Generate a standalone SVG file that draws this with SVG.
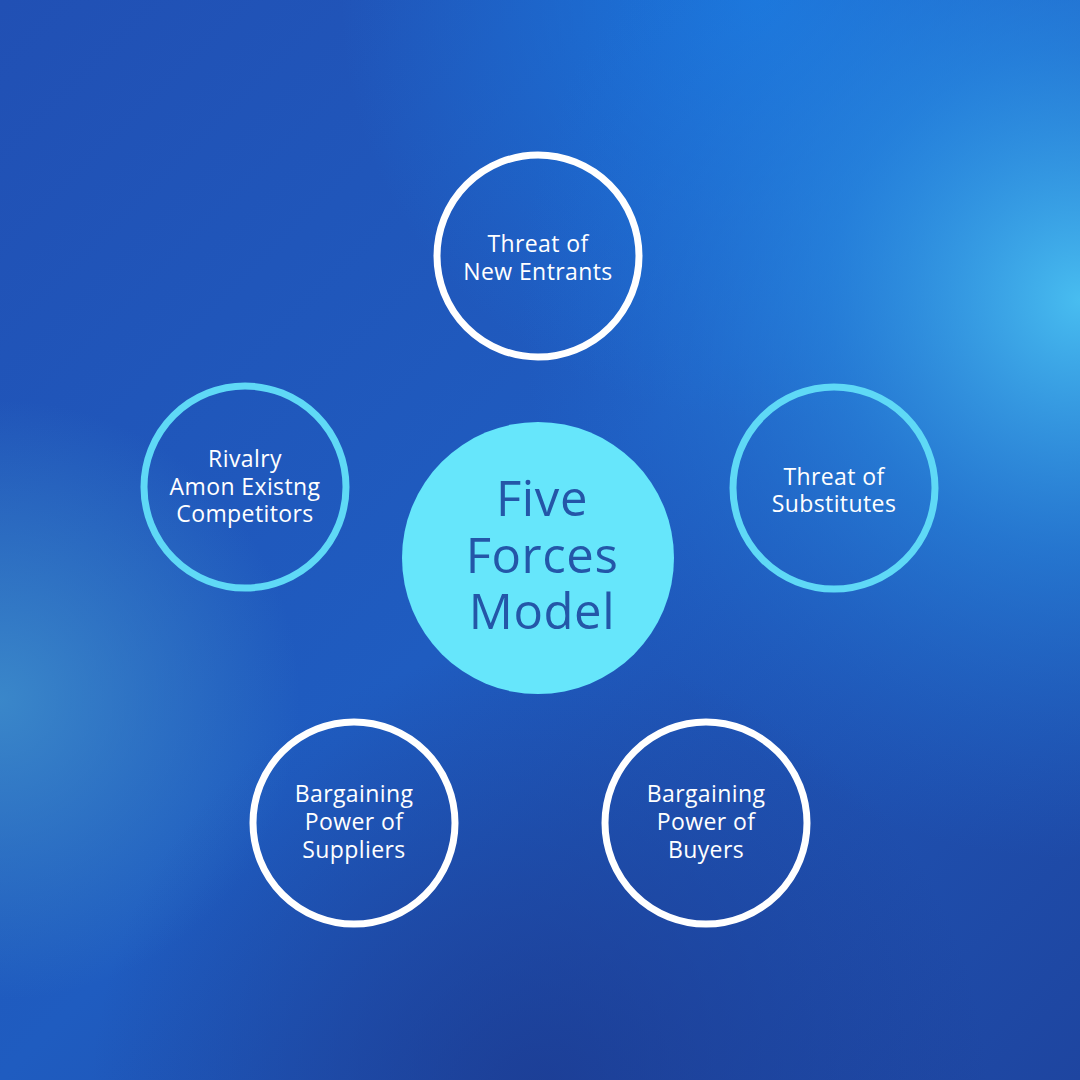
<svg xmlns="http://www.w3.org/2000/svg" width="1080" height="1080" viewBox="0 0 1080 1080">
<defs>
<linearGradient id="bg" x1="0" y1="0" x2="1" y2="1">
<stop offset="0" stop-color="#2150b4"/>
<stop offset="0.5" stop-color="#1f5cc0"/>
<stop offset="1" stop-color="#1e45a0"/>
</linearGradient>
<radialGradient id="g1" cx="1080" cy="300" r="560" gradientUnits="userSpaceOnUse">
<stop offset="0" stop-color="#48bdf0" stop-opacity="1"/>
<stop offset="0.45" stop-color="#2a8ee3" stop-opacity="0.6"/>
<stop offset="1" stop-color="#1f6fd8" stop-opacity="0"/>
</radialGradient>
<radialGradient id="g2" cx="760" cy="0" r="420" gradientUnits="userSpaceOnUse">
<stop offset="0" stop-color="#1a7ae0" stop-opacity="0.9"/>
<stop offset="1" stop-color="#1a7ae0" stop-opacity="0"/>
</radialGradient>
<radialGradient id="g3" cx="0" cy="700" r="300" gradientUnits="userSpaceOnUse">
<stop offset="0" stop-color="#3d8ccb" stop-opacity="0.9"/>
<stop offset="1" stop-color="#3d8ccb" stop-opacity="0"/>
</radialGradient>
<radialGradient id="g4" cx="540" cy="1100" r="450" gradientUnits="userSpaceOnUse">
<stop offset="0" stop-color="#1c3a90" stop-opacity="0.8"/>
<stop offset="1" stop-color="#1c3a90" stop-opacity="0"/>
</radialGradient>
<style>
.ring{fill:none;stroke-width:7}
.w{stroke:#ffffff}
.c{stroke:#5fd9f6}
.lbl{font-family:"Open Sans","Liberation Sans",sans-serif;font-size:23px;font-weight:500;letter-spacing:0.4px;fill:#ffffff;text-anchor:middle}
.ctr{font-family:"Open Sans","Liberation Sans",sans-serif;font-size:49px;font-weight:500;letter-spacing:0.6px;fill:#2456a8;text-anchor:middle}
</style>
</defs>
<rect width="1080" height="1080" fill="url(#bg)"/>
<rect width="1080" height="1080" fill="url(#g2)"/>
<rect width="1080" height="1080" fill="url(#g1)"/>
<rect width="1080" height="1080" fill="url(#g3)"/>
<rect width="1080" height="1080" fill="url(#g4)"/>
<g id="connectors"></g>
<g id="center">
<circle cx="538" cy="558" r="136" fill="#66e6fb"/>
<text class="ctr" x="542" y="516">Five</text>
<text class="ctr" x="542" y="573">Forces</text>
<text class="ctr" x="542" y="629">Model</text>
</g>
<g id="new-entrants">
<circle class="ring w" cx="538" cy="256" r="101"/>
<text class="lbl" x="538" y="252">Threat of</text>
<text class="lbl" x="538" y="280">New Entrants</text>
</g>
<g id="rivalry">
<circle class="ring c" cx="245" cy="487" r="101"/>
<text class="lbl" x="245" y="467">Rivalry</text>
<text class="lbl" x="245" y="495">Amon Existng</text>
<text class="lbl" x="245" y="522">Competitors</text>
</g>
<g id="substitutes">
<circle class="ring c" cx="834" cy="488" r="101"/>
<text class="lbl" x="834" y="485">Threat of</text>
<text class="lbl" x="834" y="512">Substitutes</text>
</g>
<g id="suppliers">
<circle class="ring w" cx="354" cy="823" r="101"/>
<text class="lbl" x="354" y="802">Bargaining</text>
<text class="lbl" x="354" y="830">Power of</text>
<text class="lbl" x="354" y="858">Suppliers</text>
</g>
<g id="buyers">
<circle class="ring w" cx="706" cy="823" r="101"/>
<text class="lbl" x="706" y="802">Bargaining</text>
<text class="lbl" x="706" y="830">Power of</text>
<text class="lbl" x="706" y="858">Buyers</text>
</g>
</svg>
